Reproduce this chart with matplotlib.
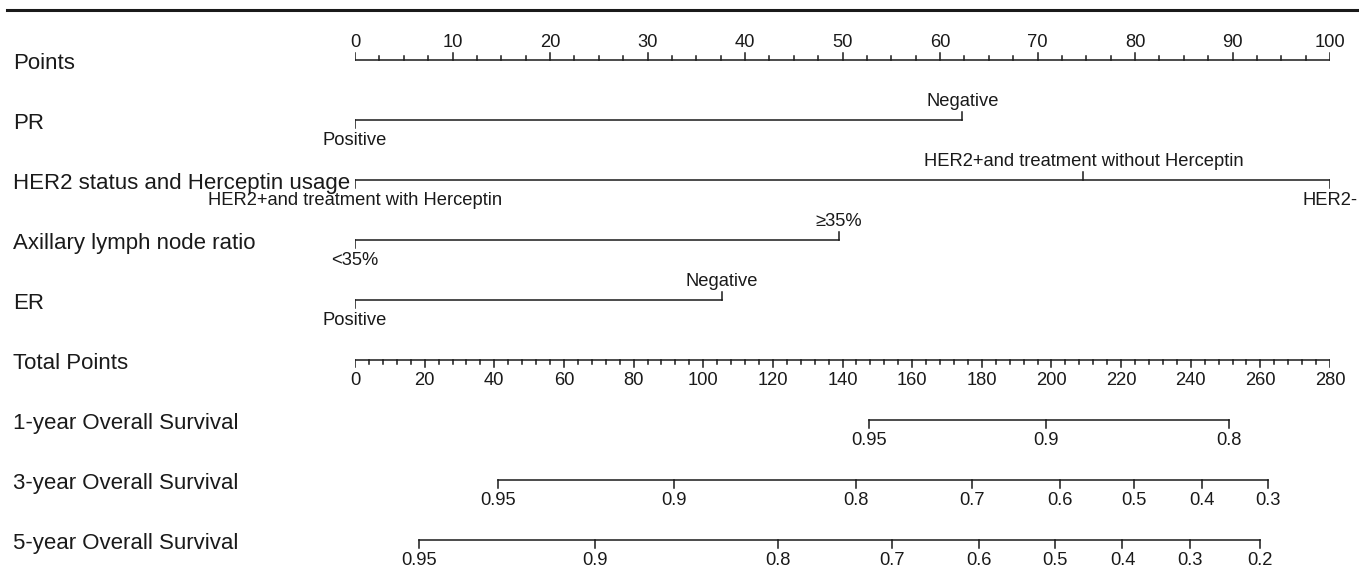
import numpy as np
import matplotlib.pyplot as plt
from matplotlib.lines import Line2D
from matplotlib.transforms import blended_transform_factory

plt.rcParams['font.family'] = ['Liberation Sans', 'DejaVu Sans']

# ---------- data ----------
row_names = ["Points", "PR", "HER2 status and Herceptin usage",
             "Axillary lymph node ratio", "ER", "Total Points",
             "1-year Overall Survival", "3-year Overall Survival",
             "5-year Overall Survival"]

pr_levels = ["Positive", "Negative"]
pr_points = [0, 62.3]
her2_levels = ["HER2+and treatment with Herceptin",
               "HER2+and treatment without Herceptin", "HER2-"]
her2_points = [0, 74.7, 100]
alnr_levels = ["<35%", "≥35%"]
alnr_points = [0, 49.6]
er_levels = ["Positive", "Negative"]
er_points = [0, 37.6]

surv1_labels = ["0.95", "0.9", "0.8"]
surv1_total = [147.7, 198.4, 251.1]
surv3_labels = ["0.95", "0.9", "0.8", "0.7", "0.6", "0.5", "0.4", "0.3"]
surv3_total = [41.0, 91.5, 144.0, 177.2, 202.4, 223.8, 243.3, 262.3]
surv5_labels = ["0.95", "0.9", "0.8", "0.7", "0.6", "0.5", "0.4", "0.3", "0.2"]
surv5_total = [18.4, 68.8, 121.5, 154.3, 179.3, 200.9, 220.4, 239.7, 259.8]

# ---------- layout ----------
W, H = 1359, 570
ROW = 60.0            # pixels per row
px = 1 / ROW          # one pixel in row units
col = '#1a1a1a'
lw = 1.1
fs_row = 16
fs_tick = 13.2

fig = plt.figure(figsize=(W / 100, H / 100), dpi=100)
rect = [355 / W, 0, 975 / W, 1]
ax = fig.add_axes(rect)          # points scale 0-100
ax2 = fig.add_axes(rect)         # total points scale 0-280
for a in (ax, ax2):
    a.set_ylim(8.5, -1)
    a.axis('off')
    a.patch.set_visible(False)
ax.set_xlim(0, 100)
ax2.set_xlim(0, 280)

# top rule
fig.add_artist(Line2D([7 / W, 1], [1 - 10 / H, 1 - 10 / H],
                      transform=fig.transFigure, color=col, lw=2.2))

# row labels
trans = blended_transform_factory(fig.transFigure, ax.transData)
for i, name in enumerate(row_names):
    ax.text(13 / W, i + 3 * px, name, transform=trans, ha='left', va='center',
            fontsize=fs_row, color=col)

# Points axis (ticks up, labels above)
y = 0
ax.plot([0, 100], [y, y], color=col, lw=lw)
for v in np.arange(0, 100.1, 2.5):
    major = v % 10 == 0
    ax.plot([v, v], [y, y - (7 if major else 4) * px], color=col, lw=lw)
    if major:
        ax.text(v, y - 13 * px, f"{v:g}", ha='center', va='baseline',
                fontsize=fs_tick, color=col)

# categorical variables
def draw_var(row, levels, points):
    ax.plot([min(points), max(points)], [row, row], color=col, lw=lw)
    for k, (lab, v) in enumerate(zip(levels, points)):
        if k % 2 == 0:
            ax.plot([v, v], [row, row + 8 * px], color=col, lw=lw)
            ax.text(v, row + 12 * px, lab, ha='center', va='top',
                    fontsize=fs_tick, color=col)
        else:
            ax.plot([v, v], [row, row - 8 * px], color=col, lw=lw)
            ax.text(v, row - 14 * px, lab, ha='center', va='baseline',
                    fontsize=fs_tick, color=col)

draw_var(1, pr_levels, pr_points)
draw_var(2, her2_levels, her2_points)
draw_var(3, alnr_levels, alnr_points)
draw_var(4, er_levels, er_points)

# Total points axis (ticks down, labels below)
y = 5
ax2.plot([0, 280], [y, y], color=col, lw=lw)
for v in np.arange(0, 281, 4):
    major = v % 20 == 0
    ax2.plot([v, v], [y, y + (7 if major else 4) * px], color=col, lw=lw)
    if major:
        ax2.text(v, y + 12 * px, f"{v:g}", ha='center', va='top',
                 fontsize=fs_tick, color=col)

# survival axes
def draw_surv(row, labels, total):
    ax2.plot([min(total), max(total)], [row, row], color=col, lw=lw)
    for lab, v in zip(labels, total):
        ax2.plot([v, v], [row, row + 8 * px], color=col, lw=lw)
        ax2.text(v, row + 12 * px, lab, ha='center', va='top',
                 fontsize=fs_tick, color=col)

draw_surv(6, surv1_labels, surv1_total)
draw_surv(7, surv3_labels, surv3_total)
draw_surv(8, surv5_labels, surv5_total)

fig.savefig('out.png', dpi=100)
